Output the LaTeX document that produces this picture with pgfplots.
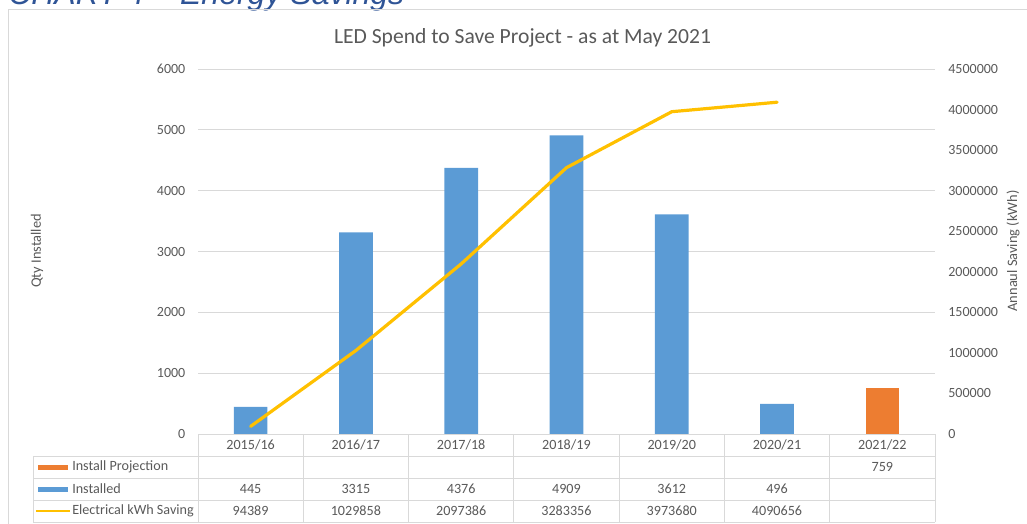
\documentclass[border=0pt]{standalone}
\usepackage{pgfplots}
\pgfplotsset{compat=1.18}
\usepackage{fontspec}
\setmainfont{Carlito}
\newfontfamily\arialfont{Liberation Sans}
\definecolor{txt}{RGB}{89,89,89}
\definecolor{gridc}{RGB}{217,217,217}
\definecolor{bblue}{RGB}{91,155,213}
\definecolor{borange}{RGB}{237,125,49}
\definecolor{lyellow}{RGB}{255,192,0}
\definecolor{ttlblue}{RGB}{47,84,150}

\pgfplotstableread{
x inst
0 445
1 3315
2 4376
3 4909
4 3612
5 496
}\installed
\pgfplotstableread{
x proj
6 759
}\projection
\pgfplotstableread{
x kwh
0 94389
1 1029858
2 2097386
3 3283356
4 3973680
5 4090656
}\saving

\begin{document}
\begin{tikzpicture}[x=0.75pt,y=-0.75pt]
\useasboundingbox (0,0) rectangle (1027,524);
% outer title (cut off, as in the reference)
\node[anchor=base west, inner sep=0, font=\arialfont\itshape\fontsize{24}{28}\selectfont, text=ttlblue] at (8,5) {CHART 4 – Energy Savings};
% chart area border
\draw[gridc, line width=0.75pt] (8,10) rectangle (1045,545);
% chart title
\node[font=\fontsize{16.2}{19}\selectfont, text=txt] at (522.5,38) {LED Spend to Save Project - as at May 2021};
% axis titles
\node[rotate=90, font=\fontsize{10.8}{12}\selectfont, text=txt] at (37,251) {Qty Installed};
\node[rotate=90, font=\fontsize{10.8}{12}\selectfont, text=txt] at (1013,251) {Annaul Saving (kWh)};

\coordinate (sw) at (198,434);
\begin{axis}[
  at={(sw)}, anchor=south west, scale only axis,
  width=552.75pt, height=273.75pt,
  xmin=-0.5, xmax=6.5, ymin=0, ymax=6000,
  xtick=\empty,
  ytick={0,1000,2000,3000,4000,5000,6000},
  ymajorgrids, grid style={gridc, line width=0.75pt},
  axis lines*=left, axis line style={draw=none},
  major tick length=0,
  scaled y ticks=false,
  /pgf/number format/assume math mode=true,
  /pgf/number format/1000 sep={},
  yticklabel style={font=\fontsize{10.5}{12}\selectfont, text=txt, xshift=-6pt},
]
\addplot[ybar, bar width=0.32, fill=bblue, draw=none] table[x=x, y=inst] {\installed};
\addplot[ybar, bar width=0.32, fill=borange, draw=none] table[x=x, y=proj] {\projection};
\end{axis}
\begin{axis}[
  at={(sw)}, anchor=south west, scale only axis,
  width=552.75pt, height=273.75pt,
  xmin=-0.5, xmax=6.5, ymin=0, ymax=4500000,
  xtick=\empty,
  ytick={0,500000,1000000,1500000,2000000,2500000,3000000,3500000,4000000,4500000},
  axis x line=none, axis y line*=right, axis line style={draw=none},
  major tick length=0,
  scaled y ticks=false,
  /pgf/number format/assume math mode=true,
  /pgf/number format/1000 sep={},
  /pgf/number format/fixed,
  yticklabel style={font=\fontsize{10.5}{12}\selectfont, text=txt, xshift=6.5pt},
]
\addplot[lyellow, line width=2.4pt, line join=round, line cap=round] table[x=x, y=kwh] {\saving};
\end{axis}

% data table
\begin{scope}[gridc, line width=0.75pt]
\draw (198,434) -- (935,434);
\draw (33,456) -- (935,456);
\draw (33,478) -- (935,478);
\draw (33,500) -- (935,500);
\draw (33,522) -- (935,522);
\draw (33,456) -- (33,522);
\foreach \xx in {198,303.3,408.6,513.9,619.1,724.4,829.7,935} {\draw (\xx,434) -- (\xx,522);}
\end{scope}
\begin{scope}[every node/.style={font=\fontsize{10.6}{12}\selectfont, text=txt, inner sep=0}]
\foreach \c [count=\i from 0] in {2015/16,2016/17,2017/18,2018/19,2019/20,2020/21,2021/22}
  {\node at (250.6+105.286*\i,445) {\c};}
\foreach \v [count=\i from 0] in {445,3315,4376,4909,3612,496}
  {\node at (250.6+105.286*\i,489) {\v};}
\foreach \v [count=\i from 0] in {94389,1029858,2097386,3283356,3973680,4090656}
  {\node at (250.6+105.286*\i,511) {\v};}
\node at (882.4,467) {759};
\fill[borange] (38,464.5) rectangle (68,469.5);
\fill[bblue] (38,486.5) rectangle (68,491.5);
\draw[lyellow, line width=2.2pt] (36,511) -- (70,511);
\node[anchor=west] at (72,467) {Install Projection};
\node[anchor=west] at (72,489) {Installed};
\node[anchor=west] at (72,511) {Electrical kWh Saving};
\end{scope}
\end{tikzpicture}
\end{document}
